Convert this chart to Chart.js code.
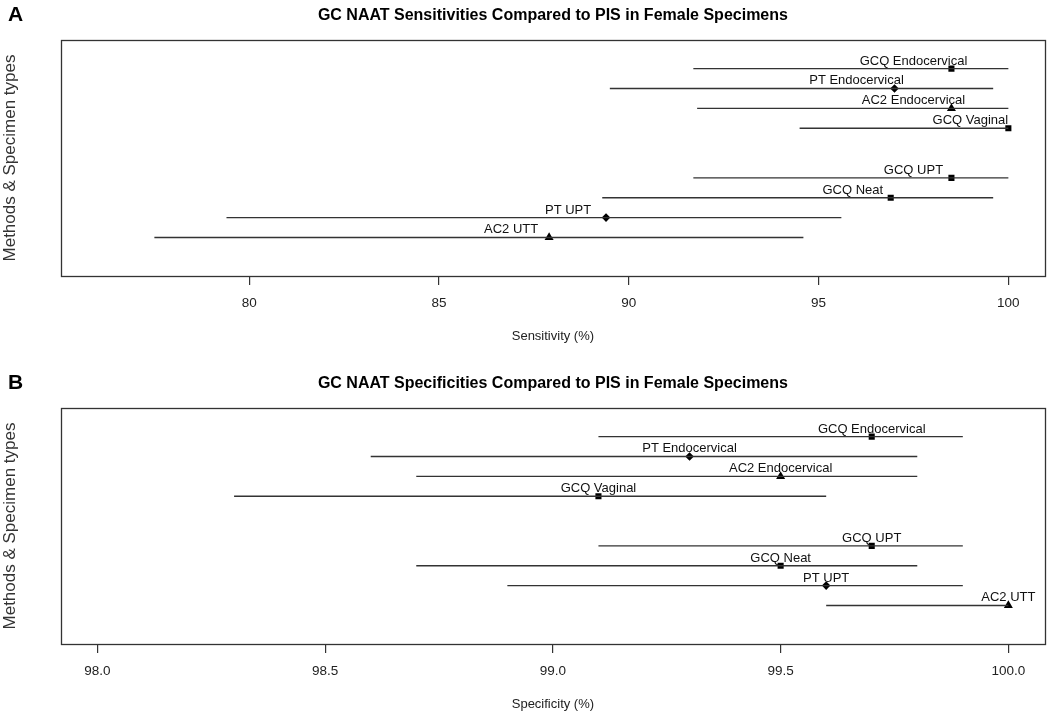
<!DOCTYPE html>
<html><head><meta charset="utf-8">
<script src="https://cdn.jsdelivr.net/npm/chart.js@4.4.1/dist/chart.umd.min.js"></script>
<style>
html,body{margin:0;padding:0;background:#fff;overflow:hidden;width:1050px;height:712px;}
.panel{position:absolute;left:0;width:1050px;height:368px;}
.panel canvas{display:block;}
.tag{position:absolute;left:8px;font:bold 21px "Liberation Sans",Arial,sans-serif;color:#000;line-height:21px;}
</style></head><body>
<div class="panel" style="top:0"><canvas id="c1" width="1050" height="368"></canvas></div>
<div class="panel" style="top:368px"><canvas id="c2" width="1050" height="368"></canvas></div>
<div class="tag" style="top:3px">A</div>
<div class="tag" style="top:371px">B</div>
<script>
// ---- data ----
const rowNames = ['GCQ Endocervical','PT Endocervical','AC2 Endocervical','GCQ Vaginal','GCQ UPT','GCQ Neat','PT UPT','AC2 UTT'];
const rowPos = [9.5, 8.5, 7.5, 6.5, 4, 3, 2, 1];
const rowMarkers = ['rect','rectRot','triangle','rect','rect','rect','rectRot','triangle'];

const sensEst   = [98.5, 97.0, 98.5, 100.0, 98.5, 96.9, 89.4, 87.9];
const sensLower = [91.7, 89.5, 91.8, 94.5, 91.7, 89.3, 79.4, 77.5];
const sensUpper = [100.0, 99.6, 100.0, 100.0, 100.0, 99.6, 95.6, 94.6];
const sensTicks = [80, 85, 90, 95, 100];
const sensTickLabels = ['80','85','90','95','100'];
const sensLimits = [76, 100];
const sensLabelShift = -1;

const specEst   = [99.7, 99.3, 99.5, 99.1, 99.7, 99.5, 99.6, 100.0];
const specLower = [99.1, 98.6, 98.7, 98.3, 99.1, 98.7, 98.9, 99.6];
const specUpper = [99.9, 99.8, 99.8, 99.6, 99.9, 99.8, 99.9, 100.0];
const specTicks = [98.0, 98.5, 99.0, 99.5, 100.0];
const specTickLabels = ['98.0','98.5','99.0','99.5','100.0'];
const specLimits = [98, 100];
const specLabelShift = 0;

const yLimits = [-0.5, 10.5];
const titles = ['GC NAAT Sensitivities Compared to PIS in Female Specimens','GC NAAT Specificities Compared to PIS in Female Specimens'];
const xTitles = ['Sensitivity (%)','Specificity (%)'];
const yTitle = 'Methods & Specimen types';

// ---- drawing ----
const FONT = '"Liberation Sans", Arial, sans-serif';
function rExtend(lim){ const d = (lim[1]-lim[0])*0.04; return [lim[0]-d, lim[1]+d]; }
const markerRadius = {rect:4.3, rectRot:4.3, triangle:5.2};

const boxPlugin = {id:'box', afterDraw(chart){
  const a = chart.chartArea, ctx = chart.ctx;
  ctx.save(); ctx.strokeStyle = '#333'; ctx.lineWidth = 1.3;
  ctx.strokeRect(Math.round(a.left)+0.5, Math.round(a.top)+0.5, Math.round(a.right-a.left), Math.round(a.bottom-a.top));
  ctx.restore();
}};
const labelPlugin = {id:'rowLabels', afterDatasetsDraw(chart, args, opts){
  const xs = chart.scales.x, ys = chart.scales.y, ctx = chart.ctx;
  ctx.save(); ctx.font = '13px ' + FONT; ctx.fillStyle = '#111';
  ctx.textAlign = 'center'; ctx.textBaseline = 'alphabetic';
  rowNames.forEach((n, i) => {
    ctx.fillText(n, xs.getPixelForValue(opts.est[i] + opts.shift), ys.getPixelForValue(rowPos[i]) - 4);
  });
  ctx.restore();
}};

function makePanel(id, title, xTitle, est, lower, upper, lim, ticks, tickLabels, shift){
  const xl = rExtend(lim), yl = rExtend(yLimits);
  const datasets = rowNames.map((n, i) => ({
    label: n,
    data: [{x: lower[i], y: rowPos[i]}, {x: upper[i], y: rowPos[i]}],
    showLine: true, borderColor: '#333', borderWidth: 1.4, pointRadius: 0, fill: false
  }));
  datasets.push({
    label: 'estimate',
    data: est.map((v, i) => ({x: v, y: rowPos[i]})),
    showLine: false,
    pointStyle: rowMarkers,
    pointRadius: rowMarkers.map(m => markerRadius[m]),
    backgroundColor: '#000', borderColor: '#000', borderWidth: 0
  });
  new Chart(document.getElementById(id), {
    type: 'scatter',
    data: {datasets},
    options: {
      responsive: false, animation: false, devicePixelRatio: 1,
      layout: {padding: {left: 0, right: 4, top: 0, bottom: 0}},
      plugins: {
        legend: {display: false}, tooltip: {enabled: false},
        title: {display: true, text: title, fullSize: false, color: '#000',
                font: {family: FONT, size: 16, weight: 'bold'}, padding: {top: 6, bottom: 14.8}},
        rowLabels: {est: est, shift: shift}
      },
      scales: {
        x: {
          type: 'linear', min: xl[0], max: xl[1],
          afterBuildTicks(s){ s.ticks = ticks.map(v => ({value: v})); },
          afterFit(s){ s.height = 92; },
          ticks: {callback: (v, i) => tickLabels[i], font: {family: FONT, size: 13.5}, color: '#222',
                  padding: 10, maxRotation: 0, autoSkip: false},
          grid: {drawOnChartArea: false, drawTicks: true, tickLength: 9, color: '#333', lineWidth: 1.2},
          border: {display: false},
          title: {display: true, text: xTitle, color: '#222', font: {family: FONT, size: 13}, padding: {top: 0, bottom: 24}}
        },
        y: {
          type: 'linear', min: yl[0], max: yl[1],
          afterFit(s){ s.width = 61; },
          ticks: {display: false}, grid: {display: false}, border: {display: false},
          title: {display: true, text: yTitle, color: '#333', font: {family: FONT, size: 17}, padding: {top: 0, bottom: 0}}
        }
      }
    },
    plugins: [boxPlugin, labelPlugin]
  });
}

makePanel('c1', titles[0], xTitles[0], sensEst, sensLower, sensUpper, sensLimits, sensTicks, sensTickLabels, sensLabelShift);
makePanel('c2', titles[1], xTitles[1], specEst, specLower, specUpper, specLimits, specTicks, specTickLabels, specLabelShift);
</script>
</body></html>
